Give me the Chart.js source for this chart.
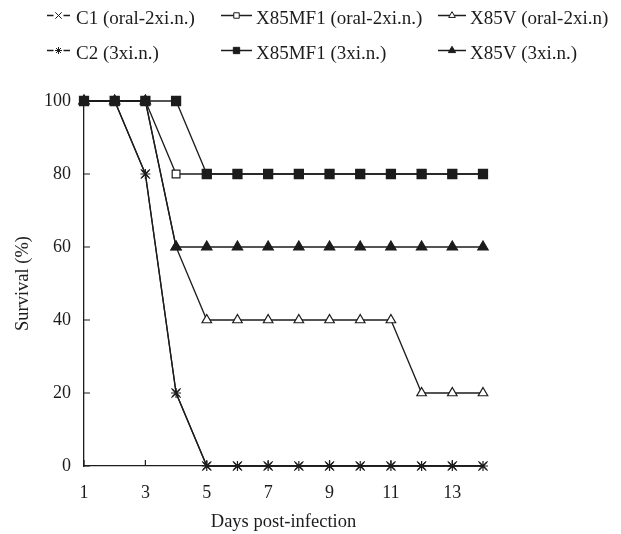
<!DOCTYPE html>
<html>
<head>
<meta charset="utf-8">
<script src="https://cdn.jsdelivr.net/npm/chart.js@4.4.0/dist/chart.umd.min.js"></script>
<style>
  html, body { margin: 0; padding: 0; background: #fff; }
  canvas { display: block; }
</style>
</head>
<body>
<canvas id="myChart" width="621" height="534"></canvas>
<script>
// data
const days = [1, 2, 3, 4, 5, 6, 7, 8, 9, 10, 11, 12, 13, 14];
const dayTicks = [1, 3, 5, 7, 9, 11, 13];
const survivalTicks = [0, 20, 40, 60, 80, 100];

const c1Oral = [100, 100, 80, 20, 0, 0, 0, 0, 0, 0, 0, 0, 0, 0];
const x85mf1Oral = [100, 100, 100, 80, 80, 80, 80, 80, 80, 80, 80, 80, 80, 80];
const x85vOral = [100, 100, 100, 60, 40, 40, 40, 40, 40, 40, 40, 20, 20, 20];
const c2Nasal = [100, 100, 80, 20, 0, 0, 0, 0, 0, 0, 0, 0, 0, 0];
const x85mf1Nasal = [100, 100, 100, 100, 80, 80, 80, 80, 80, 80, 80, 80, 80, 80];
const x85vNasal = [100, 100, 100, 60, 60, 60, 60, 60, 60, 60, 60, 60, 60, 60];

const ink = '#1c1c1c';
const serif = '"Liberation Serif", "Times New Roman", serif';

const toPoints = arr => arr.map((v, i) => ({ x: days[i], y: v }));

function series(label, values, style, radius, fill, order) {
    return {
        label: label,
        data: toPoints(values),
        borderColor: ink,
        borderWidth: 1.3,
        pointStyle: style,
        pointRadius: radius,
        pointBackgroundColor: fill,
        pointBorderColor: ink,
        pointBorderWidth: 1.2,
        tension: 0,
        clip: false,
        order: order
    };
}

// inward tick marks on both axes
const innerTicks = {
    id: 'innerTicks',
    afterDatasetsDraw(chart) {
        const { ctx, chartArea, scales } = chart;
        ctx.save();
        ctx.strokeStyle = ink;
        ctx.lineWidth = 1.2;
        ctx.beginPath();
        scales.y.ticks.forEach(t => {
            const py = scales.y.getPixelForValue(t.value);
            ctx.moveTo(chartArea.left, py);
            ctx.lineTo(chartArea.left + 6, py);
        });
        scales.x.ticks.forEach(t => {
            const px = scales.x.getPixelForValue(t.value);
            ctx.moveTo(px, chartArea.bottom);
            ctx.lineTo(px, chartArea.bottom - 6);
        });
        ctx.stroke();
        ctx.restore();
    }
};

// 3 x 2 legend at the top
const legendGrid = {
    id: 'legendGrid',
    afterDraw(chart) {
        const ctx = chart.ctx;
        const cols = [{ x: 47, w: 23, tx: 76 }, { x: 221, w: 31, tx: 256 }, { x: 438, w: 28, tx: 470 }];
        const lineY = [15.5, 50.5];
        const textY = [19.5, 54.5];
        chart.data.datasets.forEach((ds, i) => {
            const col = cols[i % 3];
            const row = Math.floor(i / 3);
            const y = lineY[row];
            const mid = col.x + col.w / 2;
            const gap = (ds.pointStyle === 'crossRot' || ds.pointStyle === 'star') ? 5 : 0;
            ctx.save();
            ctx.strokeStyle = ink;
            ctx.lineWidth = 1.3;
            ctx.beginPath();
            ctx.moveTo(col.x, y);
            ctx.lineTo(mid - gap, y);
            ctx.moveTo(mid + gap, y);
            ctx.lineTo(col.x + col.w, y);
            ctx.stroke();
            ctx.fillStyle = ds.pointBackgroundColor;
            ctx.lineWidth = 1;
            Chart.helpers.drawPoint(ctx, {
                pointStyle: ds.pointStyle,
                radius: ds.pointRadius * 0.7,
                rotation: 0,
                borderWidth: 1
            }, mid, y);
            ctx.fillStyle = ink;
            ctx.font = '19px ' + serif;
            ctx.textBaseline = 'middle';
            ctx.textAlign = 'left';
            ctx.fillText(ds.label, col.tx, textY[row]);
            ctx.restore();
        });
    }
};

const ctx = document.getElementById('myChart').getContext('2d');
const tickFont = { family: serif, size: 18 };
const titleFont = { family: serif, size: 18.5 };

new Chart(ctx, {
    type: 'line',
    data: {
        datasets: [
            series('C1 (oral-2xi.n.)', c1Oral, 'crossRot', 6.5, '#fff', 5),
            series('X85MF1 (oral-2xi.n.)', x85mf1Oral, 'rect', 5.5, '#fff', 2),
            series('X85V (oral-2xi.n)', x85vOral, 'triangle', 5.5, '#fff', 3),
            series('C2 (3xi.n.)', c2Nasal, 'star', 5, ink, 4),
            series('X85MF1 (3xi.n.)', x85mf1Nasal, 'rect', 6.4, ink, 0),
            series('X85V (3xi.n.)', x85vNasal, 'triangle', 6, ink, 1)
        ]
    },
    options: {
        responsive: false,
        animation: false,
        events: [],
        layout: {
            padding: { top: 101, right: 138, left: 0, bottom: 0 }
        },
        plugins: {
            legend: { display: false },
            tooltip: { enabled: false }
        },
        scales: {
            x: {
                type: 'linear',
                min: 1,
                max: 14,
                afterBuildTicks: s => { s.ticks = dayTicks.map(v => ({ value: v })); },
                afterFit: s => { s.height = 68; },
                grid: { display: false, drawTicks: false },
                border: { display: true, color: ink, width: 1.3 },
                ticks: { color: ink, font: tickFont, padding: 16, maxRotation: 0 },
                title: {
                    display: true,
                    text: 'Days post-infection',
                    color: ink,
                    font: titleFont,
                    padding: { top: 0, bottom: 1 }
                }
            },
            y: {
                min: 0,
                max: 100,
                afterBuildTicks: s => { s.ticks = survivalTicks.map(v => ({ value: v })); },
                afterFit: s => { s.width = 84; },
                grid: { display: false, drawTicks: false },
                border: { display: true, color: ink, width: 1.3 },
                ticks: { color: ink, font: tickFont, padding: 13 },
                title: {
                    display: true,
                    text: 'Survival (%)',
                    color: ink,
                    font: titleFont,
                    padding: { top: 12, bottom: 0 }
                }
            }
        }
    },
    plugins: [innerTicks, legendGrid]
});
</script>
</body>
</html>
